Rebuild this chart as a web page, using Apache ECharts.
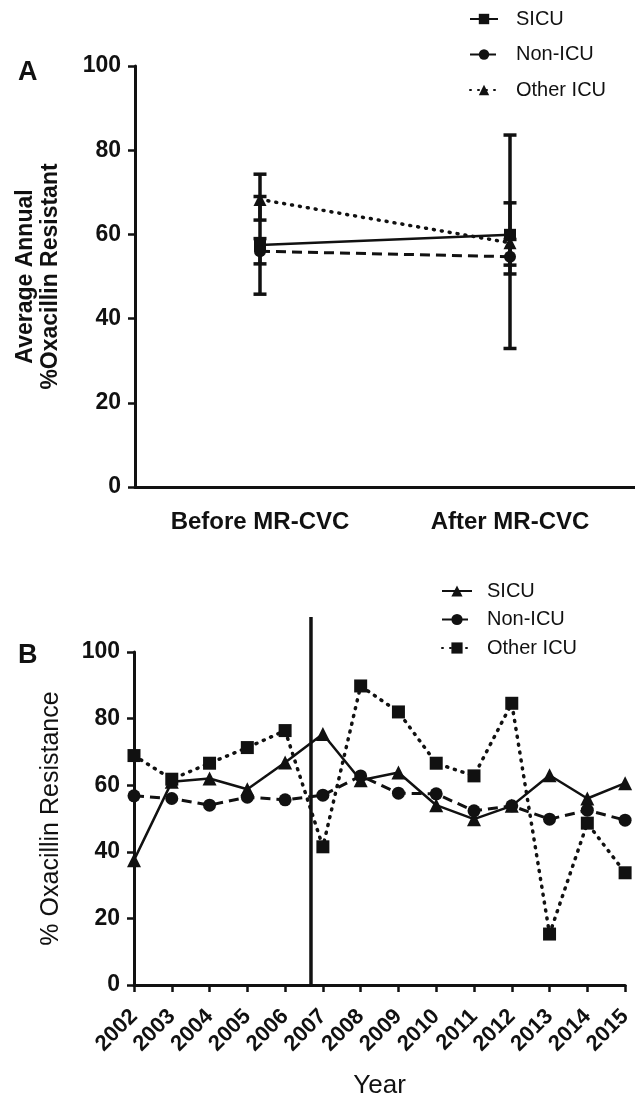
<!DOCTYPE html>
<html lang="en">
<head>
<meta charset="UTF-8"/>
<title>Oxacillin resistance</title>
<script src="https://cdn.jsdelivr.net/npm/echarts@6/dist/echarts.min.js"></script>
<style>
    html, body {margin: 0; padding: 0; background: #fff;}
    #chart {width: 635px; height: 1100px;}
</style>
</head>
<body>
<div id="chart"></div>
<script>
// ---- panel A: average annual % resistant, before / after MR-CVC
var periodsA = ['Before MR-CVC', 'After MR-CVC'];
var sicuA = [57.5, 59.9];
var nonIcuA = [56.0, 54.7];
var otherIcuA = [68.3, 58.0];
// error bars [low, high]
var sicuErrA = [[45.8, 69.0], [52.7, 67.5]];
var nonIcuErrA = [[53.0, 59.0], [50.6, 58.8]];
var otherIcuErrA = [[63.4, 74.3], [32.9, 83.6]];

// ---- panel B: yearly % oxacillin resistance
var yearsB = [2002, 2003, 2004, 2005, 2006, 2007, 2008, 2009, 2010, 2011, 2012, 2013, 2014, 2015];
var sicuB = [37.5, 61.0, 62.0, 58.8, 66.8, 75.4, 61.5, 63.8, 54.0, 49.8, 53.8, 63.0, 56.0, 60.6];
var nonIcuB = [56.8, 56.0, 54.0, 56.4, 55.6, 57.0, 62.8, 57.6, 57.4, 52.3, 53.8, 49.8, 52.5, 49.5];
var otherIcuB = [68.9, 61.8, 66.6, 71.3, 76.4, 41.5, 89.8, 82.0, 66.6, 62.8, 84.6, 15.3, 48.6, 33.7];
var mrCvcYear = 2006.62;   // introduction of MR-CVC (vertical line)

var yTicks = [0, 100, 20];  // min, max, interval
var FONT = "'Liberation Sans', Arial, sans-serif";
var INK = '#111';

function pairs(xs, ys) {
    return xs.map(function (x, i) { return [x, ys[i]]; });
}
function errData(errs) {
    return errs.map(function (e, i) { return [i, e[0], e[1]]; });
}
function errBar(params, api) {
    var x = api.value(0);
    var lo = api.coord([x, api.value(1)]);
    var hi = api.coord([x, api.value(2)]);
    var w = 6.5;
    var st = {stroke: INK, lineWidth: 3.5};
    return {
        type: 'group', children: [
            {type: 'line', shape: {x1: lo[0], y1: lo[1], x2: hi[0], y2: hi[1]}, style: st},
            {type: 'line', shape: {x1: lo[0] - w, y1: lo[1], x2: lo[0] + w, y2: lo[1]}, style: st},
            {type: 'line', shape: {x1: hi[0] - w, y1: hi[1], x2: hi[0] + w, y2: hi[1]}, style: st}
        ]
    };
}

var solid = {color: INK, width: 2.5, type: 'solid'};
var dashed = {color: INK, width: 3, type: [10, 6]};
var dotted = {color: INK, width: 3.5, type: [1, 7], cap: 'round'};

function valueY(grid, name, nameBold, nameSize, gap, lh) {
    return {
        type: 'value', gridIndex: grid, min: yTicks[0], max: yTicks[1], interval: yTicks[2],
        axisLine: {show: true, onZero: false, lineStyle: {color: INK, width: 3}},
        axisTick: {show: true, length: 7, lineStyle: {color: INK, width: 2.5}},
        splitLine: {show: false},
        axisLabel: {color: INK, fontFamily: FONT, fontWeight: 'bold', fontSize: 23, margin: 14},
        name: name, nameLocation: 'middle', nameRotate: 90, nameGap: gap,
        nameTextStyle: {color: INK, fontFamily: FONT, fontWeight: nameBold ? 'bold' : 'normal',
            fontSize: nameSize, lineHeight: lh}
    };
}

var chart = echarts.init(document.getElementById('chart'));
var option = {
    backgroundColor: '#fff',
    animation: false,
    title: [
        {text: 'A', left: 13, top: 54, textStyle: {fontFamily: FONT, fontSize: 27, fontWeight: 'bold', color: INK}},
        {text: 'B', left: 13, top: 637, textStyle: {fontFamily: FONT, fontSize: 27, fontWeight: 'bold', color: INK}}
    ],
    legend: [
        {
            data: ['A|SICU', 'A|Non-ICU', 'A|Other ICU'],
            orient: 'vertical', left: 469, top: 9, padding: 0, itemWidth: 28, itemHeight: 13, itemGap: 15.5,
            formatter: function (n) { return n.split('|')[1]; },
            textStyle: {fontFamily: FONT, fontSize: 20, color: INK, padding: [0, 0, 0, 13]}
        },
        {
            data: ['B|SICU', 'B|Non-ICU', 'B|Other ICU'],
            orient: 'vertical', left: 441, top: 581, padding: 0, itemWidth: 30, itemHeight: 14, itemGap: 8.5,
            formatter: function (n) { return n.split('|')[1]; },
            textStyle: {fontFamily: FONT, fontSize: 20, color: INK, padding: [0, 0, 0, 10]}
        }
    ],
    grid: [
        {left: 135, top: 66, width: 506, height: 421},
        {left: 134, top: 652, width: 498, height: 333},
        {left: 134, top: 617, width: 498, height: 368}
    ],
    xAxis: [
        {
            type: 'category', gridIndex: 0, data: periodsA, boundaryGap: true,
            axisLine: {lineStyle: {color: INK, width: 3}},
            axisTick: {alignWithLabel: true, length: 7, lineStyle: {color: INK, width: 2.5}},
            axisLabel: {color: INK, fontFamily: FONT, fontWeight: 'bold', fontSize: 24, margin: 23}
        },
        {
            type: 'value', gridIndex: 1, min: yearsB[0], max: yearsB[yearsB.length - 1], interval: 1,
            axisLine: {onZero: false, lineStyle: {color: INK, width: 3}},
            axisTick: {length: 7, lineStyle: {color: INK, width: 2.5}},
            splitLine: {show: false},
            axisLabel: {color: INK, fontFamily: FONT, fontWeight: 'bold', fontSize: 22, rotate: 45, margin: 28,
                showMinLabel: true, showMaxLabel: true, formatter: function (v) { return String(v); }},
            name: 'Year', nameLocation: 'middle', nameGap: 88,
            nameTextStyle: {color: INK, fontFamily: FONT, fontSize: 26}
        },
        {type: 'value', gridIndex: 2, min: yearsB[0], max: yearsB[yearsB.length - 1], show: false}
    ],
    yAxis: [
        valueY(0, 'Average Annual\n%Oxacillin Resistant', true, 23, 72, 25),
        valueY(1, '% Oxacillin Resistance', false, 25, 70, 25),
        {type: 'value', gridIndex: 2, min: 0, max: 1, show: false}
    ],
    series: [
        // panel A error bars
        {type: 'custom', xAxisIndex: 0, yAxisIndex: 0, renderItem: errBar, data: errData(otherIcuErrA), z: 1},
        {type: 'custom', xAxisIndex: 0, yAxisIndex: 0, renderItem: errBar, data: errData(sicuErrA), z: 1},
        {type: 'custom', xAxisIndex: 0, yAxisIndex: 0, renderItem: errBar, data: errData(nonIcuErrA), z: 1},
        // panel A means
        {name: 'A|SICU', type: 'line', xAxisIndex: 0, yAxisIndex: 0, data: sicuA,
            symbol: 'rect', symbolSize: 12, lineStyle: solid, itemStyle: {color: INK}, z: 3},
        {name: 'A|Non-ICU', type: 'line', xAxisIndex: 0, yAxisIndex: 0, data: nonIcuA,
            symbol: 'circle', symbolSize: 12, lineStyle: dashed, itemStyle: {color: INK}, z: 3},
        {name: 'A|Other ICU', type: 'line', xAxisIndex: 0, yAxisIndex: 0, data: otherIcuA,
            symbol: 'triangle', symbolSize: 13, lineStyle: dotted, itemStyle: {color: INK}, z: 3},
        // panel B yearly
        {name: 'B|SICU', type: 'line', xAxisIndex: 1, yAxisIndex: 1, data: pairs(yearsB, sicuB),
            symbol: 'triangle', symbolSize: 14, lineStyle: solid, itemStyle: {color: INK}, z: 3},
        {name: 'B|Non-ICU', type: 'line', xAxisIndex: 1, yAxisIndex: 1, data: pairs(yearsB, nonIcuB),
            symbol: 'circle', symbolSize: 13, lineStyle: dashed, itemStyle: {color: INK}, z: 3},
        {name: 'B|Other ICU', type: 'line', xAxisIndex: 1, yAxisIndex: 1, data: pairs(yearsB, otherIcuB),
            symbol: 'rect', symbolSize: 13, lineStyle: dotted, itemStyle: {color: INK}, z: 3},
        // MR-CVC marker line
        {type: 'line', xAxisIndex: 2, yAxisIndex: 2, data: [[mrCvcYear, 0], [mrCvcYear, 1]],
            symbol: 'none', lineStyle: {color: INK, width: 3.5}, z: 2}
    ]
};
chart.setOption(option);
</script>
</body>
</html>
